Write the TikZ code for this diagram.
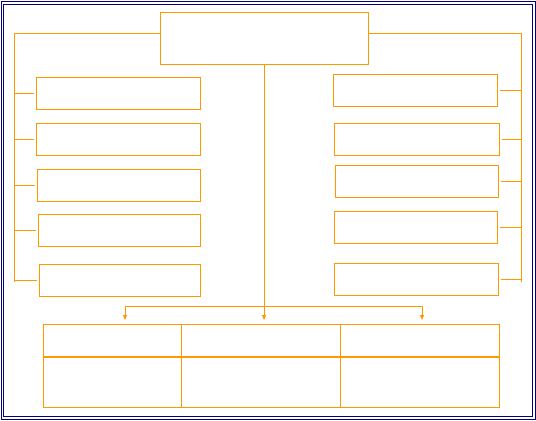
\documentclass[tikz,border=0pt]{standalone}
\usepackage{xcolor}
\usetikzlibrary{positioning,arrows.meta}
\definecolor{ChartOrange}{HTML}{FF9900}
\definecolor{FrameNavy}{HTML}{000080}

\begin{document}
\begin{tikzpicture}[
  x=0.03cm, y=-0.03cm,
  box/.style={draw=ChartOrange, line width=0.85pt, anchor=north west, inner sep=0pt, minimum width=4.92cm, minimum height=0.96cm},
  cell/.style={draw=ChartOrange, line width=0.85pt, anchor=north west, inner sep=0pt},
  link/.style={ChartOrange, line width=0.85pt},
  arrow/.style={-{Triangle[length=1.5mm, width=1.2mm]}, ChartOrange, line width=0.85pt},
  frame/.style={draw=FrameNavy, line width=0.85pt}
]
\useasboundingbox (0,0) rectangle (536,420);
\draw[frame] (1,1) rectangle (535,419);
\draw[frame] (3.5,4) rectangle (532,416);

% top box
\node[box, minimum width=6.24cm, minimum height=1.56cm] (top) at (160,12) {};

% left column
\node[box] (l1) at (36,77) {};
\node[box] (l2) at (36,123) {};
\node[box, minimum width=4.89cm] (l3) at (37,169) {};
\node[box, minimum width=4.86cm] (l4) at (38,214) {};
\node[box, minimum width=4.83cm] (l5) at (39,264) {};

% right column
\node[box] (r1) at (333,74) {};
\node[box, minimum width=4.95cm] (r2) at (334,123) {};
\node[box, minimum width=4.89cm] (r3) at (335,165) {};
\node[box, minimum width=4.89cm] (r4) at (334,211) {};
\node[box] (r5) at (334,263) {};

% table
\node[cell, minimum width=4.14cm, minimum height=0.96cm] (h1) at (43,324) {};
\node[cell, minimum width=4.77cm, minimum height=0.96cm] (h2) at (181,324) {};
\node[cell, minimum width=4.77cm, minimum height=0.96cm] (h3) at (340,324) {};
\node[cell, minimum width=4.14cm, minimum height=1.53cm] (b1) at (43,356) {};
\node[cell, minimum width=4.77cm, minimum height=1.53cm] (b2) at (181,356) {};
\node[cell, minimum width=4.77cm, minimum height=1.53cm] (b3) at (340,356) {};
\draw[ChartOrange, line width=1.7pt] (h1.south west) -- (h3.south east);

% brackets
\coordinate (lbus) at (14,33);
\coordinate (rbus) at (521,33);
\draw[link] (top.west |- lbus) -- (lbus) -- (lbus |- 0,282);
\draw[link] (top.east |- rbus) -- (rbus) -- (rbus |- 0,282);
\foreach \b in {l1,l2,l3,l4,l5}
  \draw[link, shorten >=2pt] (lbus |- \b.west) -- (\b.west);
\foreach \b in {r1,r2,r3,r4,r5}
  \draw[link, shorten >=2pt] (rbus |- \b.east) -- (\b.east);

% down to table
\coordinate (fork) at (264,306);
\coordinate (tipA) at (125,320);
\coordinate (tipB) at (264,320);
\coordinate (tipC) at (422,320);
\draw[arrow] (top.south -| fork) -- (tipB);
\draw[arrow] (fork) -| (tipA);
\draw[arrow] (fork) -| (tipC);
\end{tikzpicture}
\end{document}
